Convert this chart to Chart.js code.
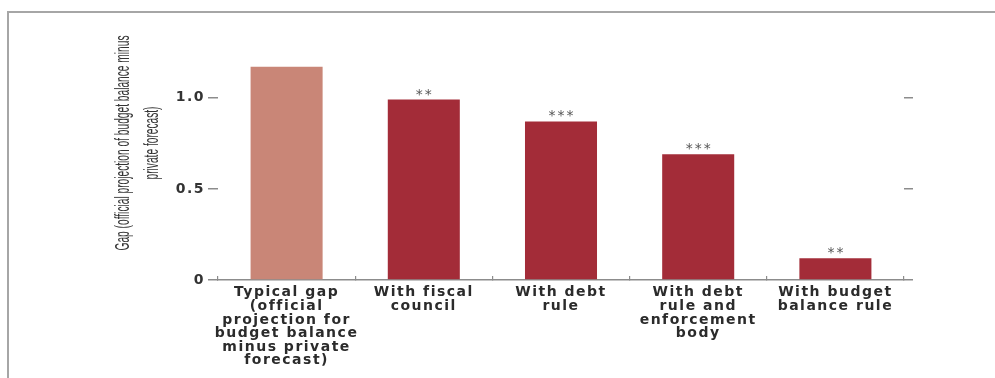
<!DOCTYPE html>
<html>
<head>
<meta charset="utf-8">
<script src="https://cdn.jsdelivr.net/npm/chart.js"></script>
<style>
  html, body { margin: 0; padding: 0; background: #fff; }
  #wrap { position: relative; width: 995px; height: 378px; overflow: hidden; }
  #frame { position: absolute; left: 7px; top: 11px; right: -4px; bottom: -4px;
           border-left: 2px solid #a6a6a6; border-top: 2px solid #a6a6a6; }
  #chart { position: absolute; left: 0; top: 0; }
</style>
</head>
<body>
<div id="wrap">
  <div id="frame"></div>
  <canvas id="chart" width="995" height="378"></canvas>
</div>
<script>
// data
const categories = [
  ["Typical gap", "(official", "projection for", "budget balance", "minus private", "forecast)"],
  ["With fiscal", "council"],
  ["With debt", "rule"],
  ["With debt", "rule and", "enforcement", "body"],
  ["With budget", "balance rule"]
];
const gapValues = [1.17, 0.99, 0.87, 0.69, 0.12];
const significance = ["", "**", "***", "***", "**"];
const yTicks = [0, 0.5, 1.0];
const yTitle = ["Gap (official projection of budget balance minus", "private forecast)"];

const barColors = ["#c98677", "#a32c38", "#a32c38", "#a32c38", "#a32c38"];
const axisGray = "#8c8c8c";

// wide lettering like the original
const spacing = {
  id: "spacing",
  beforeUpdate(chart) { chart.ctx.letterSpacing = "1.5px"; },
  beforeLayout(chart) { chart.ctx.letterSpacing = "1.5px"; },
  beforeDraw(chart) { chart.ctx.letterSpacing = "1.5px"; }
};

// stars above bars + rotated y title
const extras = {
  id: "extras",
  afterDraw(chart) {
    const ctx = chart.ctx;
    const meta = chart.getDatasetMeta(0);
    ctx.save();
    ctx.letterSpacing = "2px";
    ctx.font = "14px 'DejaVu Sans', sans-serif";
    ctx.fillStyle = "#555";
    ctx.textAlign = "center";
    ctx.textBaseline = "alphabetic";
    meta.data.forEach((bar, i) => {
      if (significance[i]) ctx.fillText(significance[i], bar.x + 1, bar.y - 1);
    });
    ctx.restore();

    ctx.save();
    ctx.letterSpacing = "0px";
    ctx.font = "15px 'Liberation Sans Narrow', 'Liberation Sans', sans-serif";
    ctx.fillStyle = "#333";
    ctx.textAlign = "center";
    ctx.textBaseline = "middle";
    const sx = 215 / ctx.measureText(yTitle[0]).width;
    const cy = (chart.chartArea.top + chart.chartArea.bottom) / 2 - 14;
    yTitle.forEach((line, i) => {
      ctx.save();
      ctx.translate(123 + i * 29, cy);
      ctx.rotate(-Math.PI / 2);
      ctx.scale(sx, 1.4);
      ctx.fillText(line, 0, 0);
      ctx.restore();
    });
    ctx.restore();
  }
};

new Chart(document.getElementById("chart"), {
  type: "bar",
  data: {
    labels: categories,
    datasets: [{
      data: gapValues,
      backgroundColor: barColors,
      borderWidth: 0,
      barPercentage: 0.525,
      categoryPercentage: 1
    }]
  },
  options: {
    responsive: false,
    animation: false,
    devicePixelRatio: 1,
    layout: { padding: { top: 34, left: 0, right: 0, bottom: 0 } },
    plugins: { legend: { display: false }, tooltip: { enabled: false } },
    scales: {
      x: {
        position: "bottom",
        grid: { display: true, offset: true, drawOnChartArea: false, tickLength: -4, color: axisGray, lineWidth: 1.2 },
        border: { display: true, color: axisGray, width: 1.5 },
        ticks: {
          color: "#2b2b2b",
          font: { family: "'DejaVu Sans', sans-serif", size: 14, weight: "bold", lineHeight: 0.97 },
          padding: 10,
          maxRotation: 0,
          autoSkip: false
        },
        afterFit(s) { s.height = 98; }
      },
      y: {
        position: "left",
        min: 0,
        max: 1.35,
        afterBuildTicks(s) { s.ticks = yTicks.map(v => ({ value: v })); },
        grid: { drawOnChartArea: false, tickLength: 10, color: axisGray, lineWidth: 1.5 },
        border: { display: false },
        ticks: {
          color: "#333",
          padding: 3,
          font: { family: "'DejaVu Sans', sans-serif", size: 14, weight: "bold" },
          callback: v => (v === 0 ? "0" : v.toFixed(1))
        },
        afterFit(s) { s.width = 218; }
      },
      y2: {
        position: "right",
        min: 0,
        max: 1.35,
        afterBuildTicks(s) { s.ticks = yTicks.map(v => ({ value: v })); },
        grid: { drawOnChartArea: false, tickLength: 9, color: axisGray, lineWidth: 1.5 },
        border: { display: false },
        ticks: { display: false },
        afterFit(s) { s.width = 91; }
      }
    }
  },
  plugins: [spacing, extras]
});
</script>
</body>
</html>
